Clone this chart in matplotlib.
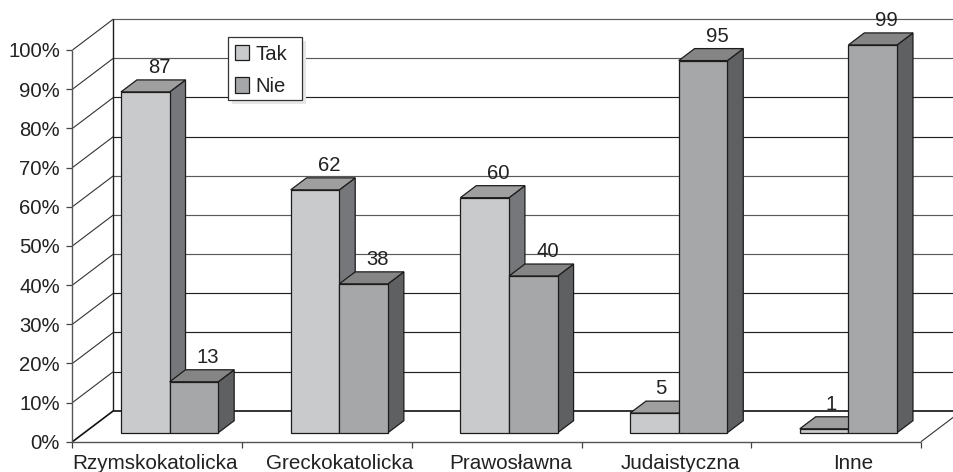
import matplotlib
matplotlib.use("Agg")
import matplotlib.pyplot as plt
from matplotlib.patches import Rectangle

plt.rcParams['font.family'] = ['Liberation Sans', 'DejaVu Sans']

categories = ["Rzymskokatolicka", "Greckokatolicka", "Prawosławna", "Judaistyczna", "Inne"]
tak = [87, 62, 60, 5, 1]
nie = [13, 38, 40, 95, 99]
yticks = list(range(0, 101, 10))

W, H = 954, 472
X0, X5, Y0, Y100 = 72.5, 921.0, 441.7, 50.0
PX_CAT = (X5 - X0) / 5
PX_PCT = (Y0 - Y100) / 100
WALL_DX, WALL_DY = 41 / PX_CAT, 31 / PX_PCT
INK = "#1c1c1c"
TXT = "#222222"
FS = 14.6

fig = plt.figure(figsize=(W / 100, H / 100), dpi=100)
ax = fig.add_axes([0, 0, 1, 1])
ax.set_xlim(-X0 / PX_CAT, (W - X0) / PX_CAT)
ax.set_ylim(-(H - Y0) / PX_PCT, Y0 / PX_PCT)
ax.axis("off")


def proj(x, y, d=0.0):
    return x + d * WALL_DX, y + d * WALL_DY


def line(p, q, color=INK, lw=0.9, z=1):
    ax.plot([p[0], q[0]], [p[1], q[1]], color=color, lw=lw, zorder=z,
            solid_capstyle="butt")


n = len(categories)
far = (W - X0) / PX_CAT + 1
GREY_GRID = (100, 90, 60, 50, 40)

# walls and gridlines
for v in yticks:
    strong = v == 0
    grid_col = "#111111" if strong else ("#5a5a5a" if v in GREY_GRID else "#222222")
    line(proj(0, v, 1), (far, v + WALL_DY), lw=1.2 if strong else 0.85, color=grid_col)
    line(proj(0, v, 0), proj(0, v, 1), lw=1.2 if strong else 0.8,
         color="#111111" if strong else "#333333")
    line((-6 / PX_CAT, v), (0, v), color="#444444")
    ax.text(-12.5 / PX_CAT, v, f"{v}%", ha="right", va="center_baseline",
            fontsize=FS, color=TXT)
line(proj(0, 0, 1), proj(0, 100, 1), lw=1.0)
line((0, 0), (0, 100), color="#555555", lw=1.0)
line((0, 0), (n, 0), color="#555555", lw=1.0)
line((n, 0), proj(n, 0, 1), color="#333333", lw=0.8)
for i in range(n + 1):
    line((i, 0), (i, -6.5 / PX_PCT), color="#444444")

# bars
BAR_L = 36.6 / PX_CAT
BAR_W = 48.65 / PX_CAT
D0, D1 = 9 / 31, 21 / 31
TAK_COL = ("#c9cacc", "#9f9f9f", "#76777a")
NIE_COL = ("#a6a7a9", "#858585", "#5f6062")


def bar3d(x, v, cols):
    xr = x + BAR_W
    e = dict(edgecolor=INK, linewidth=0.9, zorder=3, joinstyle="miter")
    corners = [proj(xr, 0, D0), proj(xr, 0, D1), proj(xr, v, D1), proj(xr, v, D0)]
    ax.fill(*zip(*corners), facecolor=cols[2], **e)
    corners = [proj(x, v, D0), proj(xr, v, D0), proj(xr, v, D1), proj(x, v, D1)]
    ax.fill(*zip(*corners), facecolor=cols[1], **e)
    corners = [proj(x, 0, D0), proj(xr, 0, D0), proj(xr, v, D0), proj(x, v, D0)]
    ax.fill(*zip(*corners), facecolor=cols[0], **e)


for i in range(n):
    x = i + BAR_L
    bar3d(x, tak[i], TAK_COL)
    bar3d(x + BAR_W, nie[i], NIE_COL)

# value labels
for i in range(n):
    for j, vals in enumerate((tak, nie)):
        v = vals[i]
        xc, _ = proj(i + BAR_L + (j + 0.5) * BAR_W, v, D0)
        px_off = 6.5 if v <= 5 else 14
        _, ly = proj(0, v, D1)
        ax.text(xc + px_off / PX_CAT, ly + 7 / PX_PCT, str(v), ha="center", va="baseline",
                fontsize=FS, color=TXT, zorder=5)

# category labels
LABEL_NUDGE = (-2, 12.5, 14, 13.5, 17)
for i, c in enumerate(categories):
    ax.text(i + 0.5 + LABEL_NUDGE[i] / PX_CAT, -27.5 / PX_PCT, c, ha="center",
            va="baseline", fontsize=14.9, color=TXT)

# legend
def px(xp, yp):
    return (xp - X0) / PX_CAT, (Y0 - yp) / PX_PCT


def rect(x1, y1, x2, y2, **kw):
    a, b = px(x1, y2)
    c, d = px(x2, y1)
    ax.add_patch(Rectangle((a, b), c - a, d - b, **kw))


rect(232, 41, 306, 104, facecolor="#e6e6e6", edgecolor="none", zorder=6)
rect(228, 37.5, 301.5, 100.5, facecolor="white", edgecolor="#333333", linewidth=0.9, zorder=7)
for label, col, yp in (("Tak", TAK_COL[0], 53), ("Nie", NIE_COL[0], 85)):
    rect(234.5, yp - 7.5, 249.5, yp + 7.5, facecolor=col, edgecolor=INK, linewidth=0.9, zorder=8)
    tx, ty = px(255, yp)
    ax.text(tx, ty, label, ha="left", va="center_baseline", fontsize=FS, color=TXT, zorder=8)

fig.savefig("out.png", dpi=100)
